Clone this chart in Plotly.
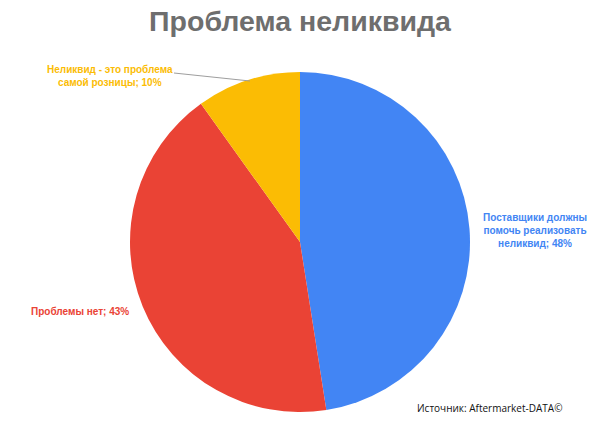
import plotly.graph_objects as go

# slice data (clockwise from 12 o'clock)
labels = ["Поставщики должны помочь реализовать неликвид",
          "Проблемы нет",
          "Неликвид - это проблема самой розницы"]
values = [48, 43, 10]
colors = ["#4285F4", "#EA4335", "#FBBC04"]

# label texts as shown on the chart
label_texts = ["Поставщики должны<br>помочь реализовать<br>неликвид; 48%",
               "Проблемы нет; 43%",
               "Неликвид - это проблема<br>самой розницы; 10%"]

W, H = 600, 432
label_pos = [(535 / W, 1 - 230 / H), (80 / W, 1 - 311 / H), (110 / W, 1 - 76 / H)]

fig = go.Figure(go.Pie(
    labels=labels,
    values=values,
    marker=dict(colors=colors, line=dict(width=0)),
    sort=False,
    direction="clockwise",
    rotation=0,
    textinfo="none",
    hoverinfo="label+percent",
    domain=dict(x=[130 / W, 470 / W], y=[1 - 412 / H, 1 - 72 / H]),
    showlegend=False,
))

for txt, (x, y), c in zip(label_texts, label_pos, colors):
    fig.add_annotation(
        x=x, y=y, xref="paper", yref="paper", text="<b>" + txt + "</b>",
        showarrow=False, align="center", xanchor="center", yanchor="middle",
        font=dict(family="Liberation Sans, Arial", size=10, color=c),
    )

# leader line for the small slice
fig.add_shape(type="line", xref="paper", yref="paper",
              x0=174 / W, y0=1 - 73 / H, x1=250 / W, y1=1 - 81 / H,
              line=dict(color="#9E9E9E", width=1))

fig.add_annotation(
    x=415 / W, y=1 - 408 / H, xref="paper", yref="paper",
    xanchor="left", yanchor="middle",
    text="Источник: Aftermarket-DATA©", showarrow=False,
    font=dict(family="Open Sans, Liberation Sans", size=10, color="#111111"),
)

fig.update_layout(
    width=W, height=H,
    title=dict(text="<b>Проблема неликвида</b>", x=0.5, xanchor="center",
               y=1 - 21 / H, yanchor="middle",
               font=dict(family="Liberation Sans, Arial", size=28.5, color="#6E6E6E")),
    margin=dict(l=0, r=0, t=0, b=0),
    paper_bgcolor="white",
    plot_bgcolor="white",
)

fig.write_html("out.html", config={"displayModeBar": False},
               post_script="document.body.style.margin='0';")
